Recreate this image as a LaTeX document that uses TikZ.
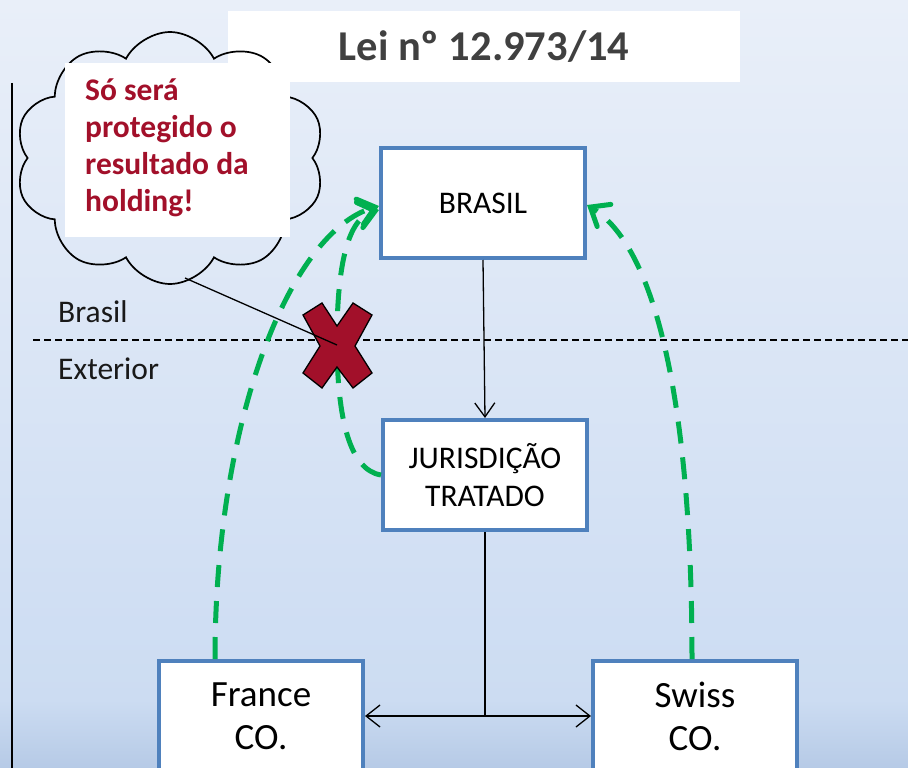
\documentclass[tikz,border=0pt]{standalone}
\usepackage{fontspec}
\setmainfont{Carlito}
\usetikzlibrary{arrows.meta,shapes.symbols}
\definecolor{bgtop}{RGB}{233,239,249}
\definecolor{bgmid}{RGB}{204,220,242}
\definecolor{bgbot}{RGB}{182,202,230}
\definecolor{boxblue}{RGB}{79,129,189}
\definecolor{grn}{RGB}{0,176,80}
\definecolor{darkred}{RGB}{162,16,42}
\definecolor{titlegray}{RGB}{64,64,64}
\tikzset{
  cobox/.style={draw=boxblue, line width=4pt, fill=white, minimum width=204pt, minimum height=110pt, align=center, inner sep=0pt},
  greenarrow/.style={draw=grn, line width=5pt, dash pattern=on 22pt off 14pt, -{Straight Barb[length=16pt,width=26pt,line cap=round]}},
  blackarrow/.style={draw=black, line width=1.3pt, -{Straight Barb[length=14pt,width=20pt]}},
  sidelabel/.style={anchor=west, font=\fontsize{31.5}{36}\selectfont, text=black!90, inner sep=0pt},
}
\begin{document}
\begin{tikzpicture}[x=1pt,y=-1pt]
\useasboundingbox (0,0) rectangle (908,768);
% background
\shade[top color=bgtop, bottom color=bgmid] (0,0) rectangle (908,700);
\shade[top color=bgmid, bottom color=bgbot] (0,699.5) rectangle (908,768);
% title
\node[fill=white, minimum width=512pt, minimum height=71pt, inner sep=0pt, text=titlegray, font=\fontsize{42.5}{48}\selectfont\bfseries] (title) at (484,46.5) {Lei nº 12.973/14};
% left vertical line
\draw[line width=2pt] (12,83) -- (12,768);
% dashed border line
\draw[line width=1.2pt, dash pattern=on 7pt off 4pt] (33,340) -- (908,340);
\node[sidelabel] (lbrasil) at (58,312) {Brasil};
\node[sidelabel] (lext) at (58,369) {Exterior};
% boxes
\node[cobox, font=\fontsize{31.5}{36}\selectfont] (brasil) at (483,203) {BRASIL};
\node[cobox, font=\fontsize{31.5}{38}\selectfont] (jur) at (485,475) {JURISDIÇÃO\\TRATADO};
\node[cobox, font=\fontsize{37}{43}\selectfont] (france) at (261,716) {France\\CO.};
\node[cobox, font=\fontsize{37}{43}\selectfont] (swiss) at (695,716) {Swiss\\CO.};
% black connectors
\draw[blackarrow] (brasil.south) -- (jur.north);
\draw[line width=1.3pt] (jur.south) -- (jur.south |- france.east) coordinate (mid);
\draw[line width=1.3pt, {Straight Barb[length=14pt,width=22pt]}-{Straight Barb[length=14pt,width=22pt]}] (france.east) -- (swiss.west);
% cloud
\node[cloud, cloud puffs=10, cloud puff arc=125, draw=black, line width=1.7pt, minimum width=310pt, minimum height=252pt, inner sep=0pt] (cloud) at (170,158) {};
\node[fill=white, minimum width=225pt, minimum height=174pt, inner sep=0pt] (cloudbox) at (177.5,150) {};
\node[anchor=north west, align=left, text=darkred, inner sep=0pt, font=\fontsize{31.5}{37}\selectfont\bfseries] (cloudtext) at (85,79) {Só será\\protegido o\\resultado da\\holding!};
% green dashed arrows
\draw[greenarrow] (france.north -| 215,0) .. controls (215,420) and (290,232) .. ([yshift=-3pt]brasil.west);
\draw[greenarrow] (jur.west) .. controls (350,470) and (337,420) .. (337,340) .. controls (337,265) and (348,218) .. ([yshift=-7pt]brasil.west);
\draw[greenarrow] (swiss.north -| 692,0) .. controls (692,420) and (660,250) .. ([yshift=-2pt]brasil.east);
% red X
\draw[fill=darkred, line width=1.3pt, line join=miter] (322,303) -- (337,326) -- (353,303) -- (372,315) -- (355,346) -- (372,373) -- (353,388) -- (337,367) -- (322,388) -- (303,373) -- (320,346) -- (303,315) -- cycle;
\coordinate (xc) at (337,345);
\coordinate (tail) at (185,278);
\draw[line width=1.3pt] (tail) -- (xc);
\end{tikzpicture}
\end{document}
